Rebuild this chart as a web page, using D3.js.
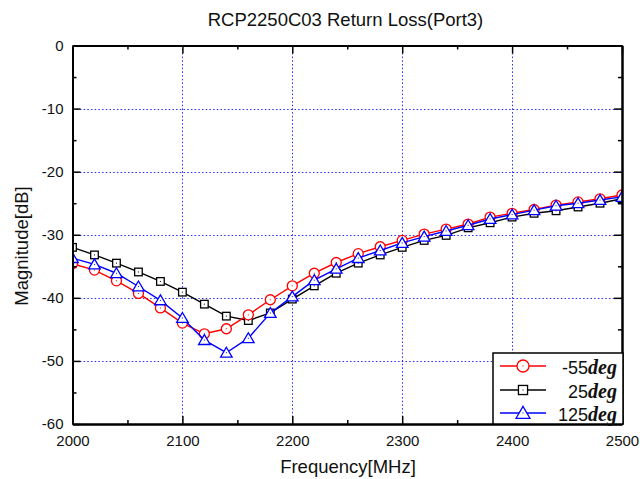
<!DOCTYPE html>
<html>
<head>
<meta charset="utf-8">
<script src="https://cdn.jsdelivr.net/npm/d3@7"></script>
<style>
  html, body { margin: 0; padding: 0; background: #fff; }
  svg { display: block; }
  text { font-family: "Liberation Sans", Arial, sans-serif; fill: #111; }
</style>
</head>
<body>
<svg id="chart" width="640" height="479"></svg>
<script>
const frequency = [2000, 2020, 2040, 2060, 2080, 2100, 2120, 2140, 2160, 2180, 2200, 2220, 2240,
                   2260, 2280, 2300, 2320, 2340, 2360, 2380, 2400, 2420, 2440, 2460, 2480, 2500];
const lossM55 = [-34.6, -35.6, -37.3, -39.3, -41.6, -44.0, -45.7, -44.9, -42.7, -40.3, -38.1, -36.1, -34.4,
                 -33.0, -31.9, -30.9, -29.9, -29.1, -28.3, -27.2, -26.6, -26.0, -25.3, -24.8, -24.3, -23.7];
const loss25 = [-32.0, -33.2, -34.5, -35.9, -37.4, -39.1, -41.0, -42.9, -43.6, -42.4, -40.2, -38.1, -36.1,
                -34.5, -33.2, -32.0, -30.9, -30.1, -28.9, -28.1, -27.2, -26.6, -26.2, -25.6, -25.0, -24.3];
const loss125 = [-33.7, -34.7, -36.1, -38.2, -40.4, -43.2, -46.7, -48.7, -46.4, -42.4, -39.8, -37.2, -35.4,
                 -33.7, -32.5, -31.3, -30.3, -29.4, -28.5, -27.5, -26.8, -26.1, -25.4, -25.0, -24.5, -24.0];
const seriesNames = ["-55", "25", "125"];
const seriesUnit = "deg";
const xTicks = [2000, 2100, 2200, 2300, 2400, 2500];
const xMinorTicks = [2050, 2150, 2250, 2350, 2450];
const yTicks = [0, -10, -20, -30, -40, -50, -60];
const yMinorTicks = [-5, -15, -25, -35, -45, -55];
const titleText = "RCP2250C03 Return Loss(Port3)";
const xLabel = "Frequency[MHz]";
const yLabel = "Magnitude[dB]";

const svg = d3.select("#chart");
const L = 72.5, R = 622, T = 45.5, B = 424;
const x = d3.scaleLinear().domain([2000, 2500]).range([L, R]);
const y = d3.scaleLinear().domain([-60, 0]).range([B, T]);
const plainFmt = d => String(d);

// grid
const grid = svg.append("g").attr("stroke", "#2a2aff").attr("stroke-width", 1)
  .attr("stroke-dasharray", "1.5,2.2");
grid.selectAll(".gx").data(xTicks.slice(1, -1)).join("line")
  .attr("x1", d => Math.round(x(d)) + 0.5).attr("x2", d => Math.round(x(d)) + 0.5)
  .attr("y1", T).attr("y2", B);
grid.selectAll(".gy").data(yTicks.slice(1, -1)).join("line")
  .attr("y1", d => Math.round(y(d)) + 0.5).attr("y2", d => Math.round(y(d)) + 0.5)
  .attr("x1", L).attr("x2", R);

// data
svg.append("clipPath").attr("id", "clip").append("rect")
  .attr("x", L).attr("y", T).attr("width", R - L).attr("height", B - T);
const plot = svg.append("g").attr("clip-path", "url(#clip)");

const series = [
  { name: seriesNames[1], values: loss25, color: "#000000", shape: "square" },
  { name: seriesNames[0], values: lossM55, color: "#ff0000", shape: "circle" },
  { name: seriesNames[2], values: loss125, color: "#0000ff", shape: "triangle" }
];
const line = d3.line().x(d => x(d[0])).y(d => y(d[1]));

function marker(g, shape, color, cx, cy, scale) {
  const s = scale || 1;
  if (shape === "circle") {
    g.append("circle").attr("cx", cx).attr("cy", cy).attr("r", 5 * s)
      .attr("fill", "#fff").attr("stroke", color).attr("stroke-width", 1.3);
  } else if (shape === "square") {
    const h = 3.8 * s;
    g.append("rect").attr("x", cx - h).attr("y", cy - h).attr("width", 2 * h).attr("height", 2 * h)
      .attr("fill", "#fff").attr("stroke", color).attr("stroke-width", 1.3);
  } else {
    const h = 5.5 * s;
    g.append("path").attr("d", `M${cx},${cy - h} L${cx + h * 1.05},${cy + h * 0.8} L${cx - h * 1.05},${cy + h * 0.8} Z`)
      .attr("fill", "#fff").attr("stroke", color).attr("stroke-width", 1.3);
  }
  g.append("rect").attr("x", cx - 0.5).attr("y", cy - 0.5).attr("width", 1).attr("height", 1).attr("fill", color);
}

series.forEach(s => {
  const pts = frequency.map((f, i) => [f, s.values[i]]);
  plot.append("path").datum(pts).attr("d", line).attr("fill", "none")
    .attr("stroke", s.color).attr("stroke-width", 1.4);
  const mg = plot.append("g");
  pts.forEach(p => marker(mg, s.shape, s.color, x(p[0]), y(p[1])));
});

// axes
function styleAxis(g) {
  g.selectAll("path.domain").attr("stroke", "#000").attr("stroke-width", 2);
  g.selectAll(".tick line").attr("stroke", "#000").attr("stroke-width", 1.5);
  g.selectAll("text").attr("font-size", 15).attr("fill", "#111")
    .attr("font-family", "'Liberation Sans', Arial, sans-serif");
}
svg.append("g").attr("transform", `translate(${L},0)`)
  .call(d3.axisLeft(y).tickValues(yTicks).tickFormat(plainFmt).tickSize(-8).tickSizeOuter(0).tickPadding(9)).call(styleAxis);
svg.append("g").attr("transform", `translate(${L},0)`)
  .call(d3.axisLeft(y).tickValues(yMinorTicks).tickSize(-4).tickSizeOuter(0).tickFormat("")).call(styleAxis);
svg.append("g").attr("transform", `translate(${R},0)`)
  .call(d3.axisRight(y).tickValues(yTicks).tickSize(-8).tickSizeOuter(0).tickFormat("")).call(styleAxis);
svg.append("g").attr("transform", `translate(${R},0)`)
  .call(d3.axisRight(y).tickValues(yMinorTicks).tickSize(-4).tickSizeOuter(0).tickFormat("")).call(styleAxis);
svg.append("g").attr("transform", `translate(0,${B})`)
  .call(d3.axisBottom(x).tickValues(xTicks).tickFormat(plainFmt).tickSize(-8).tickSizeOuter(0).tickPadding(11)).call(styleAxis);
svg.append("g").attr("transform", `translate(0,${B})`)
  .call(d3.axisBottom(x).tickValues(xMinorTicks).tickSize(-4).tickSizeOuter(0).tickFormat("")).call(styleAxis);
svg.append("g").attr("transform", `translate(0,${T})`)
  .call(d3.axisTop(x).tickValues(xTicks).tickSize(-8).tickSizeOuter(0).tickFormat("")).call(styleAxis);
svg.append("g").attr("transform", `translate(0,${T})`)
  .call(d3.axisTop(x).tickValues(xMinorTicks).tickSize(-4).tickSizeOuter(0).tickFormat("")).call(styleAxis);

// titles
svg.append("text").attr("x", 345.5).attr("y", 26).attr("text-anchor", "middle")
  .attr("font-size", 18.5).text(titleText);
svg.append("text").attr("x", 348).attr("y", 473).attr("text-anchor", "middle")
  .attr("font-size", 18.5).text(xLabel);
svg.append("text").attr("transform", "translate(28,246) rotate(-90)").attr("text-anchor", "middle")
  .attr("font-size", 18.5).text(yLabel);

// legend
const lg = svg.append("g");
lg.append("rect").attr("x", 493).attr("y", 353).attr("width", 130).attr("height", 71)
  .attr("fill", "#fff").attr("stroke", "#000").attr("stroke-width", 1.5);
const legendOrder = [series[1], series[0], series[2]];
const rowY = [366, 390, 413];
legendOrder.forEach((s, i) => {
  const cy = rowY[i];
  lg.append("line").attr("x1", 500).attr("x2", 546).attr("y1", cy).attr("y2", cy)
    .attr("stroke", s.color).attr("stroke-width", 1.4);
  marker(lg, s.shape, s.color, 523, cy, 1.2);
  const t = lg.append("text").attr("x", 617).attr("y", cy + 8).attr("text-anchor", "end")
    .attr("font-size", 18);
  t.append("tspan").text(s.name);
  t.append("tspan").attr("font-family", "'Liberation Serif', 'Times New Roman', serif")
    .attr("font-weight", "bold").attr("font-style", "italic").attr("font-size", 20).text(seriesUnit);
});
</script>
</body>
</html>
